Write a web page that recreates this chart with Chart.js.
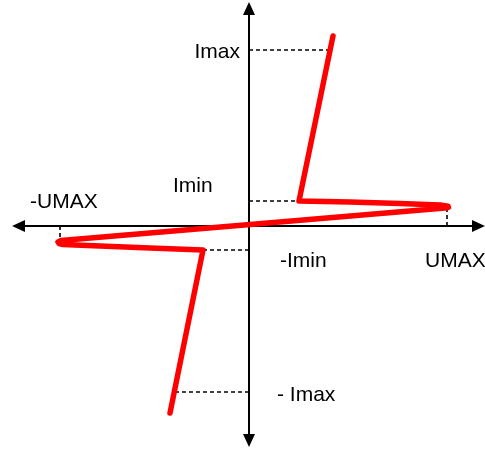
<!DOCTYPE html>
<html>
<head>
<meta charset="utf-8">
<script src="https://cdn.jsdelivr.net/npm/chart.js@4"></script>
<style>
  html, body { margin: 0; padding: 0; background: #fff; }
  #wrap { width: 485px; height: 453px; }
</style>
</head>
<body>
<div id="wrap"><canvas id="c"></canvas></div>
<script>
// Characteristic curve: voltage U (horizontal) against current I (vertical)
const curveU = [-79, -46, -99, -149, -174, -186, -190, -191, -188, 196, 199.5, 199, 191, 151, 101, 50, 84];
const curveI = [-187, -24, -22, -20, -19, -18.5, -17.5, -16, -14.5, 18, 18.8, 19.8, 21, 22.5, 24, 25, 190];

// Current levels marked on the I axis and where they meet the curve
const levelNames = ['Imax', 'Imin', '-Imin', '- Imax'];
const levelI = [176, 25, -24, -166];
const levelU = [82, 50, -46, -74];

// Voltage limits marked on the U axis and where they meet the curve
const limitNames = ['UMAX', '-UMAX'];
const limitU = [198, -189];
const limitI = [19, -17];

// Axis extents
const axisU = [-237, 236];
const axisI = [-221, 224];

const guideStyle = { borderColor: '#000', borderWidth: 1.6, borderDash: [4, 3], pointRadius: 0, fill: false, tension: 0, order: 2 };

const datasets = [];
levelI.forEach((v, k) => {
  datasets.push(Object.assign({ label: levelNames[k], data: [{ x: 0, y: v }, { x: levelU[k], y: v }] }, guideStyle));
});
limitU.forEach((u, k) => {
  datasets.push(Object.assign({ label: limitNames[k], data: [{ x: u, y: 0 }, { x: u, y: limitI[k] }] }, guideStyle));
});
datasets.push({
  label: 'I(U)',
  data: curveU.map((u, k) => ({ x: u, y: curveI[k] })),
  borderColor: '#ff0000',
  borderWidth: 5.5,
  borderCapStyle: 'round',
  borderJoinStyle: 'round',
  pointRadius: 0,
  tension: 0,
  fill: false,
  order: 1
});

const FONT = '21px "Liberation Sans", Arial, sans-serif';

// Arrowed axes through the origin
const axesPlugin = {
  id: 'arrowAxes',
  beforeDatasetsDraw(chart) {
    const { ctx, scales: { x, y } } = chart;
    const x0 = x.getPixelForValue(0), y0 = y.getPixelForValue(0);
    const xl = x.getPixelForValue(axisU[0]), xr = x.getPixelForValue(axisU[1]);
    const yb = y.getPixelForValue(axisI[0]), yt = y.getPixelForValue(axisI[1]);
    const L = 13, W = 6;
    ctx.save();
    ctx.strokeStyle = '#000';
    ctx.fillStyle = '#000';
    ctx.lineWidth = 2;
    ctx.beginPath();
    ctx.moveTo(xl + L - 2, y0); ctx.lineTo(xr - L + 2, y0);
    ctx.moveTo(x0, yt + L - 2); ctx.lineTo(x0, yb - L + 2);
    ctx.stroke();
    ctx.beginPath();
    ctx.moveTo(xl, y0); ctx.lineTo(xl + L, y0 - W); ctx.lineTo(xl + L, y0 + W); ctx.closePath();
    ctx.moveTo(xr, y0); ctx.lineTo(xr - L, y0 - W); ctx.lineTo(xr - L, y0 + W); ctx.closePath();
    ctx.moveTo(x0, yt); ctx.lineTo(x0 - W, yt + L); ctx.lineTo(x0 + W, yt + L); ctx.closePath();
    ctx.moveTo(x0, yb); ctx.lineTo(x0 - W, yb - L); ctx.lineTo(x0 + W, yb - L); ctx.closePath();
    ctx.fill();
    ctx.restore();
  },
  afterDraw(chart) {
    const { ctx, scales: { x, y } } = chart;
    const x0 = x.getPixelForValue(0), y0 = y.getPixelForValue(0);
    ctx.save();
    ctx.font = FONT;
    ctx.fillStyle = '#000';
    ctx.textBaseline = 'alphabetic';
    // level labels beside the I axis
    const lvl = [
      { align: 'right', dx: -9, dy: 8 },
      { align: 'left', dx: -76, dy: -9 },
      { align: 'left', dx: 31, dy: 17 },
      { align: 'left', dx: 28, dy: 9 }
    ];
    levelNames.forEach((t, k) => {
      ctx.textAlign = lvl[k].align;
      ctx.fillText(t, x0 + lvl[k].dx, y.getPixelForValue(levelI[k]) + lvl[k].dy);
    });
    // limit labels beside the U axis
    const lim = [
      { dx: -22, dy: 41 },
      { dx: -30, dy: -18 }
    ];
    limitNames.forEach((t, k) => {
      ctx.textAlign = 'left';
      ctx.fillText(t, x.getPixelForValue(limitU[k]) + lim[k].dx, y0 + lim[k].dy);
    });
    ctx.restore();
  }
};

new Chart(document.getElementById('c'), {
  type: 'line',
  data: { datasets },
  options: {
    responsive: true,
    maintainAspectRatio: false,
    animation: false,
    layout: { padding: 0 },
    plugins: { legend: { display: false }, tooltip: { enabled: false } },
    scales: {
      x: { type: 'linear', min: -249, max: 236, display: false },
      y: { type: 'linear', min: -227, max: 226, display: false }
    }
  },
  plugins: [axesPlugin]
});
</script>
</body>
</html>
